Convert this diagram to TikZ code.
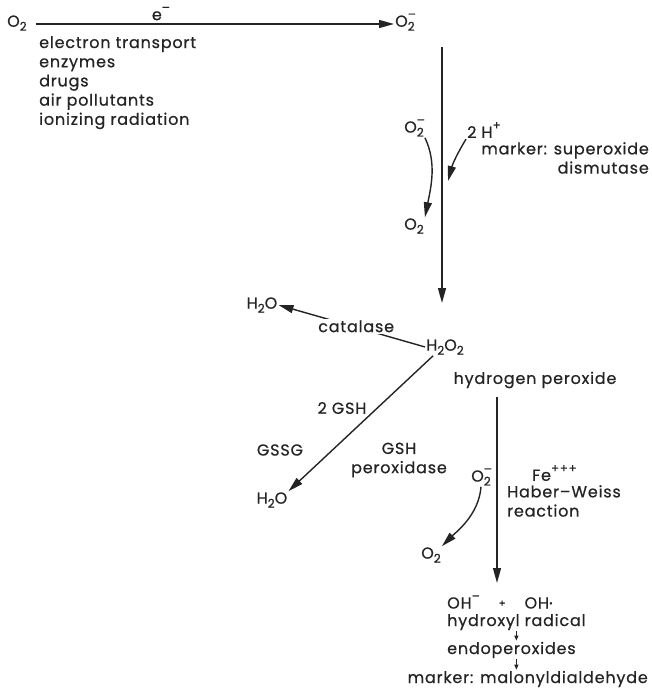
\documentclass[tikz,border=0pt]{standalone}
\usepackage{fontspec}
\setmainfont{Poppins}[LetterSpace=5,FakeBold=0.6]
\usetikzlibrary{arrows.meta}

\definecolor{ink}{gray}{0.14}
% chemical sub- and superscripts
\newcommand\dn[1]{\raisebox{-0.45ex}{\fontsize{12}{12}\selectfont #1}}
\newcommand\upr[1]{\raisebox{0.95ex}{\fontsize{12}{12}\selectfont #1}}
\newcommand\Otwo{O\dn{2}}
\newcommand\Otwom{O\rlap{\upr{–}}\dn{2}}

\begin{document}
\begin{tikzpicture}[x=1pt,y=-1pt,
  every node/.style={text=ink, font=\fontsize{16}{19.2}\selectfont, inner sep=1pt},
  line/.style={draw=ink, line width=1.4pt},
  arr/.style={line, -{Triangle[length=15pt,width=8pt]}},
  tiny/.style={draw=ink, line width=1pt, -{Triangle[length=5pt,width=4pt]}},
  lbl/.style={fill=white, inner sep=1.5pt}]
\useasboundingbox (0,0) rectangle (652,691);

% oxygen reduction
\node[anchor=mid west] (o2a) at (6,24) {\Otwo};
\node[anchor=mid west] (o2b) at (394,24) {\Otwom};
\path (o2a.mid east) ++(8,0) coordinate (hstart);
\draw[arr] (hstart) -- (o2b.mid west) node[midway, above=2pt, xshift=-54pt] (eminus) {e\upr{–}};
\node[anchor=north west, align=left] (sources) at (38,35)
  {electron transport\\enzymes\\drugs\\air pollutants\\ionizing radiation};

% dismutation
\coordinate (v1top) at (442,47);
\coordinate (v1bot) at (442,303);
\draw[arr] (v1top) -- (v1bot);
\node (o2c) at (414,128) {\Otwom};
\node (o2d) at (414,226) {\Otwo};
\draw[arr] (o2c.south east) .. controls +(12,25) and +(6,-30) .. (o2d.north east);
\node (hplus) at (484,130) {2 H\upr{+}};
\coordinate (htip) at (448,181);
\draw[arr] (hplus.south west) to[bend right=8] (htip);
\node[anchor=north east, align=right] (sod) at (650,141) {marker: superoxide\\dismutase};

% hydrogen peroxide
\node (h2o2) at (445,347) {H\dn{2}O\dn{2}};
\node (hp) at (535,380) {hydrogen peroxide};
\node (h2oa) at (262,305) {H\dn{2}O};
\draw[arr] (h2o2.west) -- (h2oa.east) node[lbl, pos=0.47, yshift=1pt] (cat) {catalase};

% glutathione peroxidase
\node (h2ob) at (272,500) {H\dn{2}O};
\path (h2o2.south west) ++(8,0) coordinate (gstart);
\draw[arr] (gstart) -- (h2ob.north east);
\node (gsh) at (342,408) {2 GSH};
\node (gssg) at (280,450) {GSSG};
\node[align=center] (gpx) at (399,460) {GSH\\peroxidase};

% Haber-Weiss reaction
\coordinate (v2top) at (497,397);
\coordinate (v2bot) at (497,583);
\draw[arr] (v2top) -- (v2bot);
\node (o2e) at (481,477) {\Otwom};
\node (o2f) at (431,555) {\Otwo};
\draw[arr] (o2e.south) .. controls +(-2,28) and +(14,-14) .. (o2f.north east);
\node[anchor=west] (fe) at (531,473) {Fe\upr{+++}};
\node[anchor=north west, align=left] (hw) at (506,484) {Haber–Weiss\\reaction};

% hydroxyl radical and products
\node[anchor=west] (oh) at (446,602) {OH\upr{–}\hspace{19pt}\raisebox{0.2ex}{\fontsize{10}{10}\selectfont +}\hspace{19pt}OH\raisebox{0.25ex}{\fontsize{9}{9}\selectfont •}};
\node[anchor=west] (hr) at (446,622) {hydroxyl radical};
\node[anchor=west] (endo) at (446,650) {endoperoxides};
\node[anchor=east] (mal) at (649,679) {marker: malonyldialdehyde};
\draw[tiny] (hr.south) -- (hr.south |- endo.north);
\draw[tiny] (hr.south |- endo.south) -- (hr.south |- mal.north);
\end{tikzpicture}
\end{document}
